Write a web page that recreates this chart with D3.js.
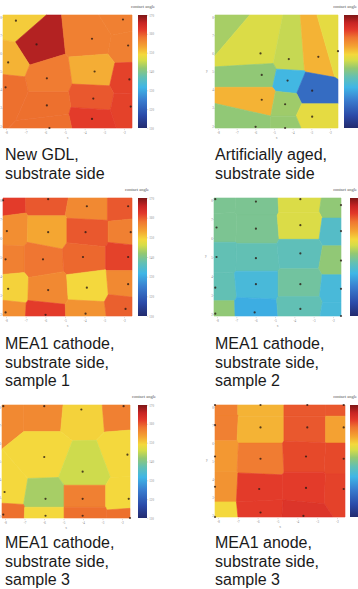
<!DOCTYPE html>
<html>
<head>
<meta charset="utf-8">
<script src="https://cdn.jsdelivr.net/npm/d3@7"></script>
<style>
  body { margin: 0; background: #fff; }
  svg { display: block; }
</style>
</head>
<body>
<svg id="fig" width="358" height="589"></svg>
<script>
// contact angle maps: each point is [x %, y %, contact angle in degrees]
const angleTicks = [170, 160, 150, 140, 130, 120, 110];
const xTicks = ['-8', '-7', '-6', '-5', '-4', '-3', '-2'];
const yTicks = ['2', '3', '4', '5', '6', '7', '8'];

const newGdl = [
  [10, 95, 150], [26, 74, 167], [69, 79, 157], [93, 96, 157], [97, 73, 157],
  [4, 58, 152], [71, 50, 152.5], [34, 44, 157.5], [98, 43, 161.5],
  [2, 36, 158.5], [70, 26, 160], [34, 20, 158.5], [99, 19, 161.5],
  [69, 8, 162], [36, 0, 158.5]
];
const aged = [
  [-4, 104, 143], [37, 66, 146.5], [60, 61, 145], [84, 63, 152], [100, 68, 147.5],
  [38, 47, 141.5], [59, 42, 132], [79, 33, 122], [38, 25, 152], [57, 21, 142.5],
  [79, 10, 147.5], [33, 1, 141.5], [57, 0, 142]
];
const cathode1 = [
  [0, 98, 162], [35, 99, 160], [65, 93, 156], [97, 93, 160],
  [3, 72, 155.5], [35, 71, 153], [64, 71, 160], [99, 71, 157],
  [2, 48, 157], [31, 48, 158], [62, 50, 159], [97, 50, 161.5],
  [4, 23, 149.5], [35, 22, 156], [65, 24, 149], [97, 27, 156],
  [2, 3, 155.5], [33, 1, 162], [64, 2, 155], [95, 6, 159.5]
];
const cathode2 = [
  [1, 99, 139.5], [33, 97, 139.5], [68, 99, 146.5], [100, 94, 141.5],
  [2, 75, 139.5], [33, 74, 139.5], [68, 77, 146.5], [100, 72, 135],
  [2, 50, 137], [33, 49, 137], [68, 53, 136.5], [100, 47, 141.5],
  [1, 24, 137], [33, 27, 133], [68, 27, 138.5], [100, 23, 133],
  [1, 2, 141.5], [32, 3, 130.5], [68, 6, 137], [100, 0, 133]
];
const cathode3 = [
  [1, 99, 156], [33, 99, 156], [62, 96, 149.5], [95, 99, 157],
  [33, 54, 149], [98, 56, 149], [63, 41, 145.5],
  [2, 23, 149], [34, 17, 143], [63, 17, 157], [99, 17, 149],
  [1, 3, 158.5], [34, 2, 149], [63, 2, 158.5], [100, 0, 158.5]
];
const anode3 = [
  [0, 100, 157], [35, 100, 152], [71, 100, 160], [99, 100, 160],
  [0, 82, 157], [35, 80, 152], [71, 80, 160], [99, 80, 153.5],
  [0, 54, 154.5], [35, 52, 157.5], [70, 54, 161], [99, 52, 161],
  [0, 27, 155], [34, 25, 162], [70, 26, 162], [99, 25, 161.5],
  [0, 0, 149], [35, 4, 162], [68, 1, 163]
];

const titles = [
  ['New GDL,', 'substrate side'],
  ['Artificially aged,', 'substrate side'],
  ['MEA1 cathode,', 'substrate side,', 'sample 1'],
  ['MEA1 cathode,', 'substrate side,', 'sample 2'],
  ['MEA1 cathode,', 'substrate side,', 'sample 3'],
  ['MEA1 anode,', 'substrate side,', 'sample 3']
];

// muted jet colormap like the scanned figure
const jetStops = [0, .11, .25, .36, .45, .53, .6, .65, .72, .8, .87, .93, 1];
const jetCols = ['#232b6e', '#2b4aa8', '#3a7fd0', '#3fb6e6', '#62c0b4', '#94c872', '#d6dd48',
  '#f4d83c', '#f4a432', '#ef7630', '#e2382a', '#c82424', '#7e1616'];
const frac = d3.scaleLinear().domain([110, 170]).range([0, 1]).clamp(true);
const jet = d3.scaleLinear().domain(jetStops).range(jetCols).interpolate(d3.interpolateRgb);
const color = v => jet(frac(v));

const svg = d3.select('#fig');
const defs = svg.append('defs');
defs.append('linearGradient').attr('id', 'jetGrad')
  .attr('x1', 0).attr('y1', 1).attr('x2', 0).attr('y2', 0)
  .selectAll('stop').data(jetStops).join('stop')
  .attr('offset', d => d).attr('stop-color', (d, i) => jetCols[i]);
defs.append('filter').attr('id', 'soft').attr('x', -0.02).attr('y', -0.02).attr('width', 1.04).attr('height', 1.04)
  .append('feGaussianBlur').attr('stdDeviation', 0.5);

// right-hand colour bars run off the page edge in the scan, so no tick labels there
const panels = [
  { pts: newGdl, box: [3, 15, 132, 128], cb: 138, cbw: 9, lab: 143, ticks: true, tx: 5, ty: 160, yl: false },
  { pts: aged, box: [215, 15, 338, 128], cb: 344, cbw: 14, lab: 357, ticks: false, tx: 215, ty: 160, yl: true },
  { pts: cathode1, box: [3, 198, 132, 316], cb: 138, cbw: 9, lab: 137, ticks: true, tx: 5, ty: 349, yl: false },
  { pts: cathode2, box: [214, 198, 341, 316], cb: 350, cbw: 9, lab: 357, ticks: false, tx: 215, ty: 349, yl: true },
  { pts: cathode3, box: [2, 405, 130, 518], cb: 138, cbw: 9, lab: 144, ticks: true, tx: 5, ty: 548, yl: false },
  { pts: anode3, box: [215, 405, 345, 517], cb: 350, cbw: 9, lab: 357, ticks: false, tx: 215, ty: 548, yl: true }
];

function styleAxis(sel) {
  sel.select('.domain').remove();
  sel.selectAll('line').attr('stroke', '#aaa').attr('stroke-width', 0.4);
  sel.selectAll('text').attr('fill', '#888').attr('font-size', 3.2).attr('font-family', 'Liberation Serif');
}

panels.forEach((p, i) => {
  const [x0, y0, x1, y1] = p.box;
  const x = d3.scaleLinear().domain([0, 100]).range([x0, x1]);
  const y = d3.scaleLinear().domain([0, 100]).range([y1, y0]);
  const g = svg.append('g');

  const vor = d3.Delaunay.from(p.pts, d => x(d[0]), d => y(d[1])).voronoi([x0, y0, x1, y1]);
  g.append('g').attr('filter', 'url(#soft)')
    .selectAll('path').data(p.pts).join('path')
    .attr('d', (d, j) => vor.renderCell(j))
    .attr('fill', d => color(d[2]))
    .attr('stroke', d => color(d[2]))
    .attr('stroke-width', 0.6);

  g.append('g').selectAll('circle')
    .data(p.pts.filter(d => d[0] >= 0 && d[0] <= 100 && d[1] >= 0 && d[1] <= 100))
    .join('circle')
    .attr('cx', d => x(d[0])).attr('cy', d => y(d[1]))
    .attr('r', 1.1).attr('fill', '#2a1a14').attr('opacity', 0.8);

  // colour bar
  const cs = d3.scaleLinear().domain([110, 170]).range([y1, y0]);
  g.append('rect').attr('x', p.cb).attr('y', y0)
    .attr('width', p.cbw).attr('height', y1 - y0)
    .attr('fill', 'url(#jetGrad)');
  if (p.ticks) {
    g.append('g').attr('transform', `translate(${p.cb + p.cbw},0)`)
      .call(d3.axisRight(cs).tickValues(angleTicks).tickSize(1.2).tickPadding(1))
      .call(styleAxis);
  }
  g.append('text').attr('x', p.lab).attr('y', y0 - 7)
    .attr('text-anchor', p.ticks ? 'middle' : 'end')
    .attr('font-family', 'Liberation Serif').attr('font-size', 4.5).attr('fill', '#555')
    .text('contact angle');

  // axes (tiny in the scan)
  const xt = d3.scalePoint().domain(xTicks).range([x0 + 3, x1 - 8]);
  g.append('g').attr('transform', `translate(0,${y1 + 1})`)
    .call(d3.axisBottom(xt).tickSize(1.2).tickPadding(1.5))
    .call(styleAxis);
  g.append('text').attr('x', (x0 + x1) / 2).attr('y', y1 + 11)
    .attr('font-family', 'Liberation Serif').attr('font-size', 3.5).attr('fill', '#888')
    .attr('text-anchor', 'middle').text('x');
  const yt = d3.scalePoint().domain(yTicks).range([y1 - 2, y0 + 2]);
  g.append('g').attr('transform', `translate(${x0},0)`)
    .call(d3.axisLeft(yt).tickSize(0.8).tickPadding(0.4))
    .call(styleAxis);
  if (p.yl) {
    g.append('text').attr('x', x0 - 9).attr('y', (y0 + y1) / 2)
      .attr('font-family', 'Liberation Serif').attr('font-size', 3.5).attr('fill', '#888')
      .text('y');
  }

  // caption
  const t = svg.append('text').attr('font-family', 'Liberation Sans, Arial, sans-serif')
    .attr('font-size', 16).attr('fill', '#1a1a1a');
  t.selectAll('tspan').data(titles[i]).join('tspan')
    .attr('x', p.tx).attr('y', (d, k) => p.ty + k * 18.5)
    .text(d => d);
});
</script>
</body>
</html>
